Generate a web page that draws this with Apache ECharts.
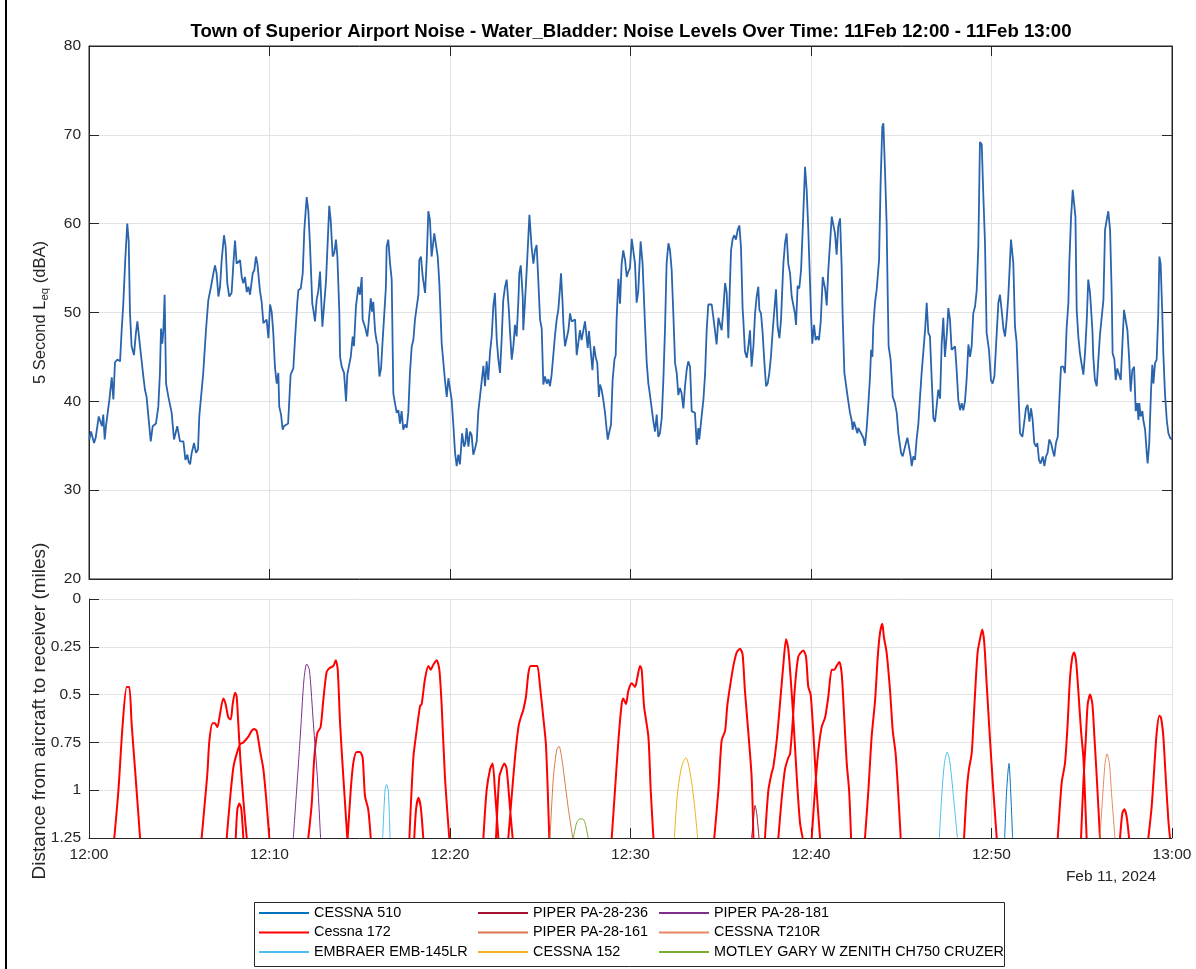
<!DOCTYPE html>
<html>
<head>
<meta charset="utf-8">
<script src="https://cdn.jsdelivr.net/npm/echarts@6/dist/echarts.min.js"></script>
<style>
  html, body { margin: 0; padding: 0; background: #fff; }
  #chart { width: 1196px; height: 969px; }
</style>
</head>
<body>
<div id="chart"></div>
<script>
// ---------------- DATA ----------------
const titleText = 'Town of Superior Airport Noise - Water_Bladder: Noise Levels Over Time: 11Feb 12:00 - 11Feb 13:00';
const dateLabel = 'Feb 11, 2024';
const distanceLabel = 'Distance from aircraft to receiver (miles)';
const timeTickLabels = ['12:00', '12:10', '12:20', '12:30', '12:40', '12:50', '13:00']; // minute 0,10,...,60

// 5-second Leq (dBA) vs minutes after 12:00
const noiseLevel = [
[0.02,35.7],[0.11,36.6],[0.28,35.3],[0.37,35.9],[0.46,35.9],[0.54,38.3],[0.65,38.5],[0.72,37.2],[0.79,38.5],[0.87,35.7],[0.94,37.2],[1.02,37.4],[1.13,40.2],[1.26,42.7],[1.35,40.2],[1.44,44.4],[1.57,44.7],[1.66,44.7],[1.72,44.5],[1.81,48],[1.90,51],[2.01,56],[2.12,60],[2.20,58],[2.27,50],[2.36,46.2],[2.49,45.2],[2.60,47.7],[2.68,49],[2.79,46.9],[2.88,46.9],[3.01,42.8],[3.10,41.3],[3.19,40.5],[3.29,38.3],[3.42,35.5],[3.53,37.2],[3.60,37.2],[3.71,37.5],[3.84,39.4],[3.93,43.2],[3.99,48.2],[4.06,46.5],[4.12,48],[4.19,52],[4.27,42],[4.38,40.7],[4.49,40.9],[4.58,38.7],[4.71,35.7],[4.82,35.7],[4.89,37.2],[4.97,37.1],[5.04,35.5],[5.23,35.5],[5.34,33.4],[5.45,34],[5.52,33.2],[5.60,32.9],[5.69,34.2],[5.82,35.3],[5.93,34.2],[6.04,34.6],[6.11,38.3],[6.19,38.5],[6.33,43.2],[6.48,48],[6.61,51.4],[6.76,52.9],[6.89,54.4],[6.98,55.3],[7.07,54.4],[7.17,51.8],[7.26,52.9],[7.35,55.9],[7.48,58.7],[7.57,57.4],[7.66,53.3],[7.77,51.8],[7.90,52.2],[8.00,55.5],[8.09,58.1],[8.18,55.5],[8.37,55.9],[8.46,54],[8.55,53.3],[8.64,54],[8.74,52.3],[8.83,52.9],[8.92,52],[9.07,54.4],[9.16,54.8],[9.25,56.3],[9.33,55.5],[9.47,52.5],[9.57,51.1],[9.66,48.8],[9.75,48.8],[9.84,49.2],[9.94,47.1],[10.03,50.9],[10.12,50.1],[10.21,47.7],[10.30,43.9],[10.40,42],[10.49,43.2],[10.54,39.4],[10.64,38.5],[10.73,36.8],[10.80,37.2],[10.91,37.2],[11.03,37.5],[11.17,43],[11.32,43.7],[11.41,46.9],[11.54,51.1],[11.60,52.5],[11.73,52.7],[11.84,54.4],[11.93,59.3],[12.06,63.0],[12.15,61.5],[12.24,57.8],[12.37,51],[12.43,50.3],[12.52,49],[12.61,51.4],[12.71,52.5],[12.80,54.6],[12.93,48.4],[13.04,48.4],[13.13,53.5],[13.22,53.7],[13.31,62],[13.39,60.4],[13.50,56.3],[13.59,56.7],[13.68,58.2],[13.76,56.3],[13.87,50],[13.91,45],[14.00,43.9],[14.13,43.2],[14.24,40],[14.31,43],[14.42,42.8],[14.50,45],[14.61,47.3],[14.68,46.2],[14.79,50.7],[14.92,52.9],[15.01,52],[15.11,54],[15.16,49.2],[15.29,48.4],[15.42,47.3],[15.49,48.8],[15.61,51.6],[15.68,50.1],[15.75,51.2],[15.85,47.9],[15.94,46.7],[15.99,46.4],[16.09,42.8],[16.18,43.7],[16.27,46.9],[16.34,49.2],[16.45,52.9],[16.49,57.4],[16.58,58.2],[16.68,55.5],[16.77,53.7],[16.86,40.9],[16.95,39.8],[17.05,38.7],[17.14,39],[17.23,37.5],[17.32,38.9],[17.41,36.8],[17.51,37.4],[17.60,37],[17.69,38.7],[17.78,43.2],[17.88,46.2],[17.97,46.9],[18.06,49.2],[18.15,49.4],[18.25,52],[18.30,55.9],[18.39,56.3],[18.49,54],[18.62,52.2],[18.71,56],[18.80,61.4],[18.89,60.4],[18.98,56.3],[19.04,56.1],[19.13,58.9],[19.22,59.1],[19.32,56.3],[19.41,53.3],
[19.54,46.5],[19.72,42.4],[19.82,40.5],[19.91,42.6],[20.00,42.5],[20.09,40.2],[20.19,37.2],[20.28,34.2],[20.37,32.7],[20.46,34],[20.55,32.9],[20.67,36.4],[20.78,34.9],[20.85,35.3],[20.92,37],[21.02,34.9],[21.11,36.6],[21.20,36.2],[21.29,34],[21.39,34.7],[21.48,35.5],[21.57,38.9],[21.66,40.5],[21.75,40.7],[21.85,44],[21.94,41.7],[22.03,44.5],[22.12,42.4],[22.22,45.6],[22.31,47.3],[22.40,50.7],[22.49,52.2],[22.59,46.9],[22.68,44.7],[22.77,43.2],[22.86,46.9],[22.95,51.4],[23.05,52.9],[23.14,53.7],[23.19,53.8],[23.27,50],[23.32,48],[23.42,44.7],[23.51,46.2],[23.60,48.6],[23.69,47.3],[23.79,51.4],[23.84,54.4],[23.92,55.3],[24.03,51.8],[24.06,48],[24.16,51.4],[24.25,54.8],[24.40,61],[24.52,57.4],[24.62,55.5],[24.71,57],[24.80,57.6],[24.89,53.7],[24.99,49.2],[25.08,48.2],[25.17,41.9],[25.26,42.8],[25.36,42],[25.45,42.5],[25.54,41.7],[25.63,43],[25.73,43.2],[25.82,47.5],[25.91,49.2],[26.00,50.3],[26.09,52.6],[26.15,54.4],[26.24,51],[26.28,48.8],[26.37,46.2],[26.46,46.2],[26.56,48],[26.65,49.9],[26.74,49],[26.83,49.2],[26.93,49.2],[27.02,45.2],[27.11,45.2],[27.20,48],[27.29,46.9],[27.39,47],[27.48,49],[27.57,49],[27.63,46],[27.70,47.9],[27.79,47.7],[27.89,43.5],[27.98,46.2],[28.07,45],[28.16,44.3],[28.25,40.5],[28.31,41.9],[28.40,41.3],[28.49,40.2],[28.59,38.7],[28.68,36.8],[28.74,35.7],[28.83,36.6],[28.92,37.4],[29.01,42.4],[29.11,44.7],[29.18,45.2],[29.23,49.2],[29.33,53.8],[29.42,51],[29.51,55.5],[29.60,57],[29.70,55.9],[29.79,54],[29.88,54.6],[29.97,55],[30.07,58.3],[30.16,58.2],[30.25,55.5],[30.34,51.1],[30.43,52.4],[30.56,58],[30.67,55.5],[30.80,48.8],[30.90,44.3],[30.99,42],[31.08,40.7],[31.17,40.5],[31.27,37.7],[31.36,36.6],[31.45,38.5],[31.54,36],[31.63,36.4],[31.73,38.1],[31.82,42.4],[31.91,48],[32.00,55.5],[32.10,57.8],[32.19,57],[32.28,54.8],[32.37,50],[32.47,44.3],[32.56,43.2],[32.65,40.7],[32.74,41.5],[32.83,40.9],[32.93,39.2],[33.02,41.7],[33.11,43.5],[33.20,44.5],[33.30,43.9],[33.39,38.9],[33.48,38.9],[33.57,38.7],[33.67,35.1],[33.76,37],[33.81,35.7],[33.94,38.3],[34.04,40.2],[34.13,43],[34.22,48],[34.31,50.9],[34.40,50.7],[34.50,50.9],[34.59,50.9],[34.68,48],[34.77,46.4],[34.87,49.4],[34.96,49.2],[35.05,48],[35.14,50.3],[35.24,53.3],[35.33,52.2],[35.42,47.1],[35.51,53.3],[35.57,57],[35.66,58.3],[35.75,58.7],[35.84,58.2],[35.94,59.3],[36.03,59.8],[36.12,57.4],[36.21,50.5],[36.25,49.2],[36.34,45.6],[36.44,44.9],[36.53,46.2],[36.62,48],[36.71,43.9],[36.81,46.2],[36.90,49.9],[36.99,51.8],[37.08,52.9],[37.14,50.3],[37.23,49.9],[37.32,47.7],[37.42,44.3],[37.51,41.7],[37.60,42],[37.69,43.2],[37.78,45],[37.88,48],[37.97,48],[38.06,52.6],[38.15,48.4],[38.25,47.1],[38.34,49.2],[38.43,53.7],[38.47,55.5],[38.56,57.8],[38.65,58.9],[38.74,55.5],[38.84,54.4],[38.93,51.8],[39.02,51.8],[39.11,49.9],[39.17,48.6],[39.26,53],[39.35,52.7],[39.45,54.8],[39.54,59.3],[39.67,66.4],[39.76,63.8],[39.85,59.3],[39.94,53.7],[40.00,49.9],[40.07,46.5],[40.17,48.6],[40.26,46.9],[40.35,47.3],[40.44,46.9],[40.54,49],[40.65,54],[40.78,52.7],[40.87,50.8],[40.96,54.8],[41.05,54.8],[41.15,60.8],[41.24,61],[41.33,58.9],[41.42,56.5],[41.51,59.7],[41.61,60.6],
[41.70,55],[41.75,49.9],[41.85,43.2],[41.94,43],[42.03,40.5],[42.16,38.7],[42.25,37.9],[42.31,36.8],[42.38,37.7],[42.48,37.7],[42.57,36.4],[42.62,37],[42.72,36.6],[42.81,36.4],[42.90,35.9],[42.99,35],[43.08,36.8],[43.18,39.8],[43.27,42.8],[43.33,45.8],[43.40,45],[43.45,48.4],[43.55,51.2],[43.64,52.6],[43.77,55.9],[43.86,64.9],[43.95,70.9],[44.01,71.3],[44.10,66],[44.19,60],[44.25,52],[44.30,46.2],[44.41,44.7],[44.53,40.5],[44.65,39.8],[44.75,38.7],[44.84,36.4],[44.93,36.6],[44.99,34.2],[45.08,33.8],[45.17,34],[45.26,35.3],[45.34,35.9],[45.43,35.7],[45.52,33.8],[45.58,32.7],[45.67,33.8],[45.76,33.4],[45.85,35.7],[45.95,37.5],[46.04,40.5],[46.13,43.2],[46.22,43.4],[46.32,48],[46.41,51.1],[46.50,47.7],[46.59,47.3],[46.69,42.4],[46.78,38.1],[46.87,37.7],[46.96,39.4],[47.05,41.3],[47.15,40.3],[47.24,46.5],[47.33,49.4],[47.42,45],[47.52,47.5],[47.61,50.5],[47.70,49.2],[47.79,45.8],[47.89,45.6],[47.98,46.2],[48.07,43.5],[48.16,40.2],[48.26,39],[48.35,39.8],[48.44,39],[48.53,40],[48.62,42.4],[48.72,46.4],[48.81,45],[48.90,46.2],[48.99,49.9],[49.09,50.7],[49.18,52.5],[49.27,57.4],[49.36,69.2],[49.46,68.9],[49.55,63],[49.64,57.8],[49.73,47.7],[49.86,45.8],[49.97,42.4],[50.06,42],[50.16,42.8],[50.25,46.2],[50.38,51.1],[50.47,52],[50.56,50.3],[50.66,48.2],[50.75,47.3],[50.84,49.2],[50.93,51.8],[51.08,58.2],[51.15,58.3],[51.21,55.5],[51.30,48.4],[51.39,46.7],[51.49,46.5],[51.58,36.4],[51.71,36],[51.80,36],[51.91,39.2],[52.00,39.6],[52.10,37.7],[52.19,39.2],[52.28,37.9],[52.37,35.3],[52.47,34.9],[52.54,35.3],[52.63,33.4],[52.72,33],[52.84,33.8],[52.93,32.7],[53.02,33.8],[53.11,34.2],[53.20,35.7],[53.30,35.3],[53.39,34.5],[53.48,33.8],[53.57,35.3],[53.67,36],[53.76,40.2],[53.85,43.9],[53.98,43.9],[54.07,43.2],[54.16,48.2],[54.26,51.1],[54.31,55.5],[54.41,60.8],[54.50,63.8],[54.57,64],[54.65,60.8],[54.72,50.3],[54.81,47.3],[54.90,45.4],[55.00,44.1],[55.09,43],[55.18,45.4],[55.27,48.8],[55.36,53.7],[55.46,52.2],[55.59,48],[55.64,45],[55.73,42.4],[55.83,41.7],[55.92,44.7],[56.01,47.5],[56.10,47.7],[56.20,51.4],[56.29,59.3],[56.38,60.4],[56.47,61.4],[56.57,59.3],[56.66,52],[56.71,45.4],[56.81,44.7],[56.88,42.4],[56.97,43.7],[57.06,43.7],[57.16,42.4],[57.25,42.4],[57.34,50.3],[57.43,50.5],[57.53,48],[57.62,45],[57.71,41.1],[57.80,43.5],[57.90,43.9],[57.99,38.9],[58.08,39.8],[58.14,37.9],[58.19,39.8],[58.26,38.3],[58.36,38.9],[58.41,37.9],[58.51,36.8],[58.60,34.2],[58.65,33],[58.74,35.3],[58.84,41.3],[58.91,44.1],[58.97,42],[59.06,44.3],[59.15,44.7],[59.24,49.9],[59.30,56.3],[59.37,55.5],[59.46,50],[59.52,45.4],[59.61,40.9],[59.71,37.9],[59.80,36.4],[59.89,35.9],[60.00,35.7]
];

// Distance (miles) vs minutes after 12:00, one array of passes per aircraft type
const cessna510 = [
  [[50.73,1.25],[50.84,1.0],[50.97,0.86],[51.06,1.0],[51.17,1.25]]
];
const cessna172 = [
  [[1.40,1.25],[1.63,1.0],[1.87,0.65],[2.09,0.46],[2.23,0.46],[2.36,0.65],[2.55,0.89],[2.83,1.25]],
  [[6.24,1.25],[6.43,1.05],[6.56,0.91],[6.67,0.74],[6.85,0.65],[6.98,0.65],[7.11,0.67],[7.26,0.6],[7.44,0.52],[7.57,0.55],[7.72,0.62],[7.85,0.63],[7.96,0.55],[8.09,0.49],[8.18,0.51],[8.27,0.65],[8.40,0.86],[8.55,1.05],[8.74,1.25]],
  [[7.63,1.25],[7.81,1.05],[8.00,0.88],[8.18,0.81],[8.37,0.76],[8.55,0.75],[8.83,0.72],[9.01,0.69],[9.14,0.68],[9.29,0.69],[9.47,0.79],[9.66,0.89],[9.84,1.07],[9.99,1.25]],
  [[8.13,1.25],[8.22,1.10],[8.33,1.07],[8.44,1.10],[8.55,1.25]],
  [[12.15,1.25],[12.34,1.07],[12.48,0.83],[12.65,0.70],[12.83,0.67],[12.98,0.53],[13.17,0.38],[13.35,0.36],[13.54,0.35],[13.67,0.32],[13.78,0.37],[13.91,0.65],[14.09,0.93],[14.31,1.25]],
  [[14.33,1.25],[14.50,1.0],[14.64,0.86],[14.83,0.80],[15.01,0.80],[15.16,0.83],[15.29,1.03],[15.47,1.10],[15.61,1.25]],
  [[17.75,1.25],[17.97,0.83],[18.15,0.69],[18.34,0.56],[18.43,0.55],[18.61,0.42],[18.80,0.35],[18.93,0.37],[19.04,0.35],[19.26,0.32],[19.41,0.37],[19.54,0.56],[19.72,0.93],[19.96,1.25]],
  [[18.02,1.25],[18.12,1.10],[18.25,1.04],[18.38,1.09],[18.52,1.25]],
  [[21.85,1.25],[22.03,1.0],[22.22,0.89],[22.36,0.86],[22.49,1.0],[22.68,1.25]],
  [[22.55,1.25],[22.73,0.93],[22.86,0.89],[23.01,0.86],[23.14,0.89],[23.32,1.09],[23.47,1.25]],
  [[23.23,1.25],[23.42,1.03],[23.60,0.83],[23.79,0.67],[23.92,0.62],[24.06,0.58],[24.21,0.51],[24.34,0.39],[24.47,0.35],[24.71,0.35],[24.84,0.35],[24.99,0.46],[25.17,0.62],[25.32,0.77],[25.50,1.25]],
  [[28.96,1.25],[29.14,1.0],[29.33,0.74],[29.51,0.55],[29.60,0.52],[29.75,0.55],[29.88,0.48],[30.07,0.44],[30.25,0.46],[30.38,0.41],[30.53,0.35],[30.62,0.37],[30.75,0.56],[30.99,0.72],[31.12,1.0],[31.27,1.25]],
  [[34.64,1.25],[34.87,1.0],[35.05,0.74],[35.24,0.69],[35.36,0.56],[35.51,0.46],[35.70,0.35],[35.88,0.28],[36.07,0.26],[36.21,0.29],[36.34,0.48],[36.53,0.70],[36.71,0.93],[36.81,1.25]],
  [[37.45,1.25],[37.64,1.0],[37.82,0.91],[37.91,0.88],[38.10,0.74],[38.28,0.55],[38.47,0.34],[38.62,0.21],[38.74,0.26],[38.87,0.41],[39.02,0.62],[39.21,0.93],[39.39,1.17],[39.54,1.25]],
  [[38.19,1.25],[38.37,1.05],[38.56,0.89],[38.74,0.83],[38.84,0.81],[38.98,0.65],[39.11,0.46],[39.30,0.30],[39.57,0.27],[39.72,0.30],[39.85,0.46],[39.98,0.50],[40.13,0.70],[40.31,1.0],[40.50,1.25]],
  [[40.04,1.25],[40.22,1.0],[40.41,0.79],[40.59,0.67],[40.78,0.62],[40.96,0.51],[41.15,0.37],[41.29,0.37],[41.42,0.35],[41.57,0.33],[41.70,0.39],[41.83,0.60],[41.98,0.86],[42.11,1.0],[42.22,1.25]],
  [[42.99,1.25],[43.18,1.0],[43.36,0.72],[43.55,0.53],[43.70,0.30],[43.82,0.18],[43.95,0.13],[44.04,0.20],[44.19,0.28],[44.38,0.48],[44.53,0.69],[44.69,0.81],[44.84,1.03],[44.97,1.25]],
  [[48.48,1.25],[48.63,1.0],[48.75,0.89],[48.90,0.81],[49.00,0.65],[49.12,0.44],[49.23,0.28],[49.36,0.21],[49.49,0.16],[49.60,0.23],[49.73,0.44],[49.92,0.74],[50.10,1.0],[50.29,1.25]],
  [[53.67,1.25],[53.89,0.96],[54.07,0.86],[54.22,0.65],[54.35,0.41],[54.48,0.30],[54.57,0.28],[54.68,0.32],[54.81,0.48],[54.96,0.69],[55.09,0.83],[55.18,1.03],[55.27,1.25]],
  [[54.96,1.25],[55.09,0.96],[55.22,0.74],[55.33,0.55],[55.46,0.50],[55.59,0.55],[55.70,0.72],[55.83,0.93],[56.01,1.25]],
  [[57.12,1.25],[57.25,1.12],[57.36,1.10],[57.49,1.14],[57.62,1.25]],
  [[58.69,1.25],[58.87,1.09],[59.00,0.91],[59.15,0.70],[59.30,0.61],[59.39,0.62],[59.52,0.72],[59.65,0.93],[59.80,1.16],[59.89,1.25]]
];
const embraer145 = [
  [[16.27,1.25],[16.40,1.0],[16.49,0.97],[16.58,1.0],[16.68,1.25]],
  [[47.11,1.25],[47.24,1.03],[47.39,0.86],[47.55,0.80],[47.70,0.86],[47.89,1.03],[48.11,1.25]]
];
const piper236 = [
  [[36.71,1.25],[36.81,1.16],[36.90,1.08],[36.99,1.12],[37.12,1.25]]
];
const piper161 = [
  [[25.54,1.25],[25.73,0.93],[25.91,0.79],[26.04,0.77],[26.19,0.83],[26.37,0.96],[26.56,1.10],[26.80,1.25]]
];
const cessna152 = [
  [[32.43,1.25],[32.59,1.03],[32.78,0.90],[32.93,0.85],[33.07,0.83],[33.20,0.86],[33.39,0.96],[33.57,1.10],[33.72,1.25]]
];
const piper181 = [
  [[11.32,1.25],[11.69,0.74],[11.91,0.42],[12.06,0.34],[12.21,0.37],[12.43,0.65],[12.65,0.93],[12.83,1.25]]
];
const cessnaT210R = [
  [[56.01,1.25],[56.16,1.03],[56.29,0.86],[56.40,0.81],[56.53,0.86],[56.66,1.03],[56.84,1.25]]
];
const zenithCH750 = [
  [[26.83,1.25],[27.02,1.17],[27.20,1.15],[27.35,1.15],[27.48,1.17],[27.66,1.25]]
];

// ---------------- CHART ----------------
const FONT = '"Liberation Sans", Arial, Helvetica, sans-serif';
const AX = '#262626';
const GRID = '#e2e2e2';

function joinPasses(passes) {
  const out = [];
  passes.forEach((p, i) => {
    if (i > 0) out.push([p[0][0] - 0.001, '-']);
    p.forEach(pt => out.push(pt));
  });
  return out;
}

const aircraft = [
  { name: 'CESSNA 510', data: cessna510, color: '#0072BD', width: 1 },
  { name: 'PIPER PA-28-236', data: piper236, color: '#A2142F', width: 1 },
  { name: 'PIPER PA-28-181', data: piper181, color: '#7E2F8E', width: 1 },
  { name: 'Cessna 172', data: cessna172, color: '#FF0000', width: 2 },
  { name: 'PIPER PA-28-161', data: piper161, color: '#D9774E', width: 1 },
  { name: 'CESSNA T210R', data: cessnaT210R, color: '#E8875F', width: 1 },
  { name: 'EMBRAER EMB-145LR', data: embraer145, color: '#4DBEEE', width: 1 },
  { name: 'CESSNA 152', data: cessna152, color: '#EDB120', width: 1 },
  { name: 'MOTLEY GARY W ZENITH CH750 CRUZER', data: zenithCH750, color: '#77AC30', width: 1 }
];

const chart = echarts.init(document.getElementById('chart'), null, { renderer: 'canvas' });

const tickStyle = { fontFamily: FONT, fontSize: 15.5, color: AX };
const timeFmt = v => timeTickLabels[Math.round(v / 10)] || '';
const axisLineStyle = { show: true, onZero: false, lineStyle: { color: AX } };
const axisTickStyle = { show: true, inside: true, length: 10, lineStyle: { color: AX } };

const legendCommon = {
  orient: 'vertical', itemWidth: 50, itemHeight: 14, itemGap: 5.5, selectedMode: false,
  itemStyle: { opacity: 0, borderWidth: 0 },
  textStyle: { fontFamily: FONT, fontSize: 14.4, color: '#000', lineHeight: 14 }, top: 901
};

const option = {
  animation: false,
  backgroundColor: '#ffffff',
  textStyle: { fontFamily: FONT },
  graphic: [
    { type: 'text', x: 631, y: 32, style: { text: titleText, font: 'bold 18.6px ' + FONT, fill: '#000', textAlign: 'center', textVerticalAlign: 'middle' } },
    { type: 'text', x: 1111, y: 877, style: { text: dateLabel, font: '15.5px ' + FONT, fill: AX, textAlign: 'center', textVerticalAlign: 'middle' } },
    { type: 'text', x: 40, y: 711, rotation: Math.PI / 2, style: { text: distanceLabel, font: '19px ' + FONT, fill: AX, textAlign: 'center', textVerticalAlign: 'middle' } },
    { type: 'rect', shape: { x: 254.5, y: 902.5, width: 750, height: 64 }, style: { fill: '#fff', stroke: AX, lineWidth: 1 }, z: -1 },
    { type: 'line', shape: { x1: 6, y1: 0, x2: 6, y2: 969 }, style: { stroke: '#000', lineWidth: 2 } }
  ],
  legend: [
    Object.assign({ left: 253, data: ['CESSNA 510', 'Cessna 172', 'EMBRAER EMB-145LR'] }, legendCommon),
    Object.assign({ left: 472, data: ['PIPER PA-28-236', 'PIPER PA-28-161', 'CESSNA 152'] }, legendCommon),
    Object.assign({ left: 653, data: ['PIPER PA-28-181', 'CESSNA T210R', 'MOTLEY GARY W ZENITH CH750 CRUZER'] }, legendCommon)
  ],
  grid: [
    { left: 89, top: 46, width: 1083, height: 533, show: true, borderColor: AX, borderWidth: 1, backgroundColor: 'transparent' },
    { left: 89, top: 599, width: 1083, height: 239 }
  ],
  xAxis: [
    { gridIndex: 0, type: 'value', min: 0, max: 60, interval: 10, position: 'bottom',
      axisLine: axisLineStyle, axisTick: axisTickStyle,
      axisLabel: { show: false }, splitLine: { show: true, lineStyle: { color: GRID } } },
    { gridIndex: 0, type: 'value', min: 0, max: 60, interval: 10, position: 'top',
      axisLine: axisLineStyle, axisTick: axisTickStyle,
      axisLabel: { show: false }, splitLine: { show: false } },
    { gridIndex: 1, type: 'value', min: 0, max: 60, interval: 10, position: 'bottom',
      axisLine: axisLineStyle, axisTick: axisTickStyle,
      axisLabel: Object.assign({ show: true, margin: 9, formatter: timeFmt }, tickStyle),
      splitLine: { show: true, lineStyle: { color: GRID } } }
  ],
  yAxis: [
    { gridIndex: 0, type: 'value', min: 20, max: 80, interval: 10, position: 'left',
      axisLine: axisLineStyle, axisTick: axisTickStyle,
      axisLabel: Object.assign({ margin: 8 }, tickStyle), splitLine: { show: true, lineStyle: { color: GRID } },
      name: '{a|5 Second L}{s|eq}{a| (dBA)}', nameLocation: 'middle', nameGap: 38,
      nameTextStyle: { rich: {
        a: { fontFamily: FONT, fontSize: 16.5, color: AX, lineHeight: 22, verticalAlign: 'middle' },
        s: { fontFamily: FONT, fontSize: 11.5, color: AX, lineHeight: 22, verticalAlign: 'bottom', padding: [8, 0, 0, 0] }
      } } },
    { gridIndex: 0, type: 'value', min: 20, max: 80, interval: 10, position: 'right',
      axisLine: axisLineStyle, axisTick: axisTickStyle,
      axisLabel: { show: false }, splitLine: { show: false } },
    { gridIndex: 1, type: 'value', min: 0, max: 1.25, interval: 0.25, inverse: true, position: 'left',
      axisLine: axisLineStyle, axisTick: axisTickStyle,
      axisLabel: Object.assign({ margin: 8 }, tickStyle), splitLine: { show: true, lineStyle: { color: GRID } } }
  ],
  series: [
    { name: 'Leq', type: 'line', xAxisIndex: 0, yAxisIndex: 0, data: noiseLevel, showSymbol: false, symbol: 'none',
      lineStyle: { color: '#2a64ad', width: 1.8 }, z: 3, silent: true }
  ].concat(aircraft.map(a => ({
    name: a.name, type: 'line', xAxisIndex: 2, yAxisIndex: 2, data: joinPasses(a.data),
    symbol: 'none', showSymbol: false, connectNulls: false, clip: true, smooth: 0.25,
    color: a.color, lineStyle: { color: a.color, width: a.width }, itemStyle: { color: a.color },
    z: a.name === 'Cessna 172' ? 3 : 4, silent: true
  })))
};

chart.setOption(option);
</script>
</body>
</html>
